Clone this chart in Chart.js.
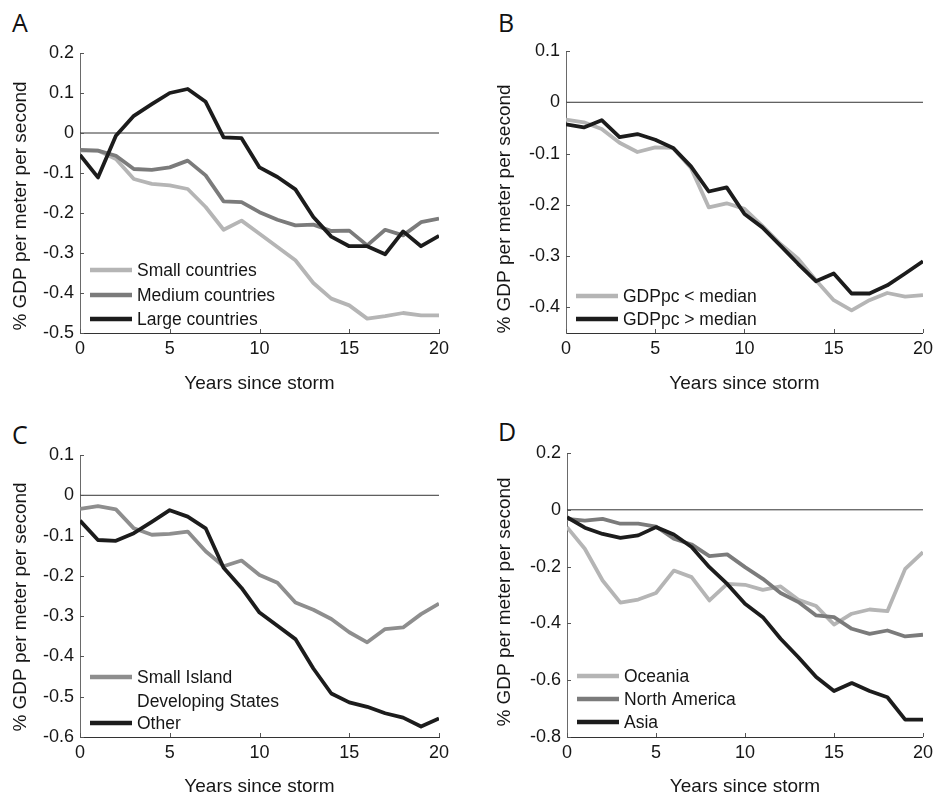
<!DOCTYPE html>
<html>
<head>
<meta charset="utf-8">
<title>Years since storm</title>
<script src="https://cdn.jsdelivr.net/npm/chart.js@4.4.0/dist/chart.umd.min.js"></script>
<style>
  html, body { margin: 0; padding: 0; background: #fff; }
  #fig { position: relative; width: 938px; height: 796px; overflow: hidden; }
  #fig canvas { position: absolute; }
  .tag {
    position: absolute;
    font-family: "Open Sans", "Liberation Sans", sans-serif;
    font-size: 25px;
    line-height: 1;
    color: #111;
  }
</style>
</head>
<body>
<div id="fig">
  <div class="tag" style="left:12px;top:10px">A</div>
  <div class="tag" style="left:498px;top:10px">B</div>
  <div class="tag" style="left:12px;top:422px">C</div>
  <div class="tag" style="left:498px;top:419px">D</div>
  <canvas id="chartA" width="469" height="398" style="left:0;top:0"></canvas>
  <canvas id="chartB" width="469" height="398" style="left:469px;top:0"></canvas>
  <canvas id="chartC" width="469" height="398" style="left:0;top:398px"></canvas>
  <canvas id="chartD" width="469" height="398" style="left:469px;top:398px"></canvas>
</div>

<script>
// ---- Data ----
const years = [0, 1, 2, 3, 4, 5, 6, 7, 8, 9, 10, 11, 12, 13, 14, 15, 16, 17, 18, 19, 20];
const xTicks = [0, 5, 10, 15, 20];

// A: by country size
const smallCountries = [-0.044, -0.044, -0.065, -0.115, -0.127, -0.131, -0.140, -0.185, -0.242, -0.219, -0.252,
  -0.285, -0.318, -0.375, -0.414, -0.431, -0.464, -0.458, -0.450, -0.456, -0.456];
const mediumCountries = [-0.042, -0.044, -0.057, -0.090, -0.092, -0.086, -0.069, -0.106, -0.171, -0.173, -0.198,
  -0.217, -0.231, -0.229, -0.245, -0.244, -0.281, -0.242, -0.256, -0.223, -0.214];
const largeCountries = [-0.055, -0.111, -0.007, 0.043, 0.072, 0.100, 0.110, 0.078, -0.011, -0.013, -0.086,
  -0.110, -0.141, -0.210, -0.259, -0.283, -0.283, -0.303, -0.246, -0.283, -0.257];
const yTicksA = [-0.5, -0.4, -0.3, -0.2, -0.1, 0, 0.1, 0.2];

// B: by income
const gdpBelowMedian = [-0.034, -0.039, -0.052, -0.079, -0.097, -0.088, -0.089, -0.128, -0.205, -0.197, -0.208,
  -0.241, -0.276, -0.305, -0.347, -0.386, -0.406, -0.386, -0.372, -0.379, -0.376];
const gdpAboveMedian = [-0.043, -0.049, -0.035, -0.068, -0.062, -0.073, -0.089, -0.125, -0.174, -0.166, -0.218,
  -0.244, -0.279, -0.315, -0.349, -0.334, -0.373, -0.373, -0.357, -0.334, -0.310];
const yTicksB = [-0.4, -0.3, -0.2, -0.1, 0, 0.1];

// C: island states vs the rest
const islandStates = [-0.034, -0.027, -0.035, -0.082, -0.098, -0.096, -0.090, -0.139, -0.176, -0.162, -0.198,
  -0.217, -0.266, -0.284, -0.307, -0.340, -0.365, -0.332, -0.328, -0.295, -0.269];
const otherStates = [-0.063, -0.111, -0.113, -0.094, -0.066, -0.037, -0.053, -0.082, -0.180, -0.230, -0.291,
  -0.324, -0.357, -0.430, -0.492, -0.514, -0.525, -0.541, -0.552, -0.574, -0.554];
const yTicksC = [-0.6, -0.5, -0.4, -0.3, -0.2, -0.1, 0, 0.1];

// D: by region
const oceania = [-0.061, -0.137, -0.249, -0.327, -0.316, -0.293, -0.214, -0.237, -0.319, -0.261, -0.264,
  -0.282, -0.270, -0.317, -0.339, -0.404, -0.366, -0.351, -0.357, -0.208, -0.149];
const northAmerica = [-0.032, -0.038, -0.032, -0.049, -0.049, -0.059, -0.102, -0.122, -0.163, -0.157, -0.202,
  -0.243, -0.293, -0.325, -0.372, -0.378, -0.419, -0.437, -0.425, -0.446, -0.440];
const asia = [-0.026, -0.063, -0.085, -0.099, -0.090, -0.061, -0.087, -0.131, -0.202, -0.261, -0.331,
  -0.378, -0.454, -0.519, -0.589, -0.638, -0.610, -0.638, -0.660, -0.739, -0.739];
const yTicksD = [-0.8, -0.6, -0.4, -0.2, 0, 0.2];

// ---- Look ----
const LIGHT = "#b5b5b5";
const MID = "#7b7b7b";
const SIDS_GREY = "#8e8e8e";
const DARK = "#1c1c1c";
const FONT = "'Liberation Sans', Arial, sans-serif";
const TEXT = "#161616";
const Y_TITLE = "% GDP per meter per second";

// Short inward tick marks along both axes, MATLAB style
const innerTicks = {
  id: "innerTicks",
  afterDraw(chart) {
    const { ctx, chartArea, scales } = chart;
    ctx.save();
    ctx.lineWidth = 1;
    ctx.strokeStyle = "#555";
    ctx.beginPath();
    scales.y.ticks.forEach((t) => {
      const py = Math.round(scales.y.getPixelForValue(t.value)) + 0.5;
      ctx.moveTo(chartArea.left, py);
      ctx.lineTo(chartArea.left + 4, py);
    });
    scales.x.ticks.forEach((t) => {
      const px = Math.round(scales.x.getPixelForValue(t.value)) + 0.5;
      ctx.moveTo(px, chartArea.bottom);
      ctx.lineTo(px, chartArea.bottom - 4);
    });
    ctx.stroke();
    ctx.restore();
  },
};

// Rotated y-axis title; sits a little below the middle of the axis
const yTitle = {
  id: "yTitle",
  afterDraw(chart, args, opts) {
    const { ctx, chartArea } = chart;
    const cy = (chartArea.top + chartArea.bottom) / 2 + opts.dy;
    ctx.save();
    ctx.translate(opts.x, cy);
    ctx.rotate(-Math.PI / 2);
    ctx.font = "19px " + FONT;
    ctx.fillStyle = TEXT;
    ctx.textAlign = "center";
    ctx.textBaseline = "middle";
    ctx.fillText(Y_TITLE, 0, 0);
    ctx.restore();
  },
};

// Legend drawn inside the plot, lower left
const panelLegend = {
  id: "panelLegend",
  afterDatasetsDraw(chart, args, opts) {
    if (!opts.rows) return;
    const { ctx, chartArea } = chart;
    const x0 = chartArea.left + 10;
    ctx.save();
    ctx.font = "17.5px " + FONT;
    ctx.textBaseline = "middle";
    ctx.fillStyle = TEXT;
    opts.rows.forEach((row) => {
      const y = chartArea.bottom + row.dy;
      if (row.color) {
        ctx.strokeStyle = row.color;
        ctx.lineWidth = 4.5;
        ctx.beginPath();
        ctx.moveTo(x0, y);
        ctx.lineTo(x0 + 42, y);
        ctx.stroke();
      }
      ctx.fillText(row.text, x0 + 47, y + 1);
    });
    ctx.restore();
  },
};

function series(values) {
  return years.map((x, i) => ({ x, y: values[i] }));
}

function makePanel(canvasId, cfg) {
  const canvas = document.getElementById(canvasId);
  const W = canvas.width;
  const H = canvas.height;

  const datasets = cfg.lines.map((l, i) => ({
    label: l.label,
    data: series(l.values),
    borderColor: l.color,
    borderWidth: 3.8,
    pointRadius: 0,
    tension: 0,
    borderJoinStyle: "round",
    order: i + 1,
  }));
  // zero reference line, kept under the data
  datasets.push({
    label: "zero",
    data: [{ x: 0, y: 0 }, { x: 20, y: 0 }],
    borderColor: "#333",
    borderWidth: 1,
    pointRadius: 0,
    order: 99,
  });

  return new Chart(canvas, {
    type: "line",
    data: { datasets },
    plugins: [innerTicks, panelLegend, yTitle],
    options: {
      responsive: false,
      animation: false,
      devicePixelRatio: 1,
      events: [],
      layout: {
        padding: { top: cfg.area.top, right: W - cfg.area.right, left: 0, bottom: 0 },
      },
      plugins: {
        legend: { display: false },
        tooltip: { enabled: false },
        panelLegend: { rows: cfg.legend },
        yTitle: { x: cfg.yTitleX, dy: cfg.yTitleDy },
      },
      scales: {
        x: {
          type: "linear",
          min: 0,
          max: 20,
          afterFit: (s) => { s.height = H - cfg.area.bottom; },
          afterBuildTicks: (s) => { s.ticks = xTicks.map((v) => ({ value: v })); },
          grid: { display: false, drawTicks: false },
          border: { display: true, color: "#333", width: 1 },
          ticks: {
            padding: 5,
            maxRotation: 0,
            color: TEXT,
            font: { family: FONT, size: 18 },
            callback: (v) => String(v),
          },
          title: {
            display: true,
            text: "Years since storm",
            color: TEXT,
            font: { family: FONT, size: 19, lineHeight: 1 },
            padding: { top: 0, bottom: cfg.xTitlePad },
          },
        },
        y: {
          type: "linear",
          min: cfg.yMin,
          max: cfg.yMax,
          afterFit: (s) => { s.width = cfg.area.left; },
          afterBuildTicks: (s) => { s.ticks = cfg.yTicks.map((v) => ({ value: v })); },
          grid: { display: false, drawTicks: false },
          border: { display: true, color: "#6a6a6a", width: 1 },
          ticks: {
            padding: 6,
            color: TEXT,
            font: { family: FONT, size: 18 },
            callback: (v) => String(Number(v.toFixed(1))),
          },
          title: { display: false },
        },
      },
    },
  });
}

makePanel("chartA", {
  area: { left: 80, top: 53, right: 439, bottom: 333 },
  yMin: -0.5, yMax: 0.2, yTicks: yTicksA,
  yTitleX: 21, yTitleDy: 13, xTitlePad: 5,
  lines: [
    { label: "Large countries", values: largeCountries, color: DARK },
    { label: "Medium countries", values: mediumCountries, color: MID },
    { label: "Small countries", values: smallCountries, color: LIGHT },
  ],
  legend: [
    { text: "Small countries", color: LIGHT, dy: -63 },
    { text: "Medium countries", color: MID, dy: -38 },
    { text: "Large countries", color: DARK, dy: -14 },
  ],
});

makePanel("chartB", {
  area: { left: 97, top: 51, right: 457, bottom: 333 },
  yMin: -0.45, yMax: 0.1, yTicks: yTicksB,
  yTitleX: 36, yTitleDy: 17, xTitlePad: 5,
  lines: [
    { label: "GDPpc > median", values: gdpAboveMedian, color: DARK },
    { label: "GDPpc < median", values: gdpBelowMedian, color: LIGHT },
  ],
  legend: [
    { text: "GDPpc < median", color: LIGHT, dy: -37 },
    { text: "GDPpc > median", color: DARK, dy: -14 },
  ],
});

makePanel("chartC", {
  area: { left: 80, top: 57, right: 439, bottom: 339 },
  yMin: -0.6, yMax: 0.1, yTicks: yTicksC,
  yTitleX: 21, yTitleDy: 11, xTitlePad: 0,
  lines: [
    { label: "Other", values: otherStates, color: DARK },
    { label: "Small Island Developing States", values: islandStates, color: SIDS_GREY },
  ],
  legend: [
    { text: "Small Island", color: SIDS_GREY, dy: -60 },
    { text: "Developing States", color: null, dy: -36 },
    { text: "Other", color: DARK, dy: -14 },
  ],
});

makePanel("chartD", {
  area: { left: 98, top: 55, right: 457, bottom: 339 },
  yMin: -0.8, yMax: 0.2, yTicks: yTicksD,
  yTitleX: 36, yTitleDy: 7, xTitlePad: 0,
  lines: [
    { label: "Asia", values: asia, color: DARK },
    { label: "North America", values: northAmerica, color: MID },
    { label: "Oceania", values: oceania, color: LIGHT },
  ],
  legend: [
    { text: "Oceania", color: LIGHT, dy: -61 },
    { text: "North America", color: MID, dy: -38 },
    { text: "Asia", color: DARK, dy: -15 },
  ],
});
</script>
</body>
</html>
